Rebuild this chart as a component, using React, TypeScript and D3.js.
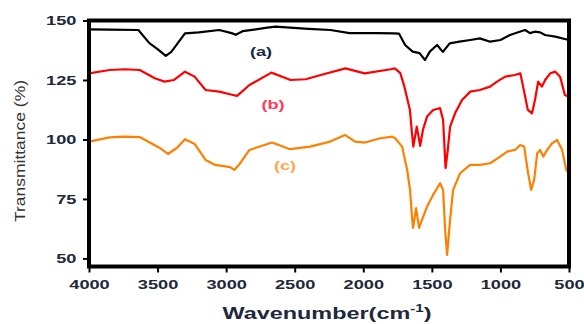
import React, { useEffect, useRef } from 'react';
import * as d3 from 'd3';

// (a) black spectrum
const waveA = [4000, 3850, 3640, 3560, 3500, 3440, 3400, 3300, 3200, 3050, 2960, 2930, 2880, 2700, 2640, 2400, 2240, 2100, 1900, 1780, 1740, 1695, 1640, 1590, 1550, 1515, 1462, 1420, 1370, 1300, 1220, 1150, 1075, 1000, 930, 860, 820, 785, 750, 710, 675, 600, 500];
const transA = [146.3, 146.2, 146, 140.5, 138, 135.1, 136.8, 144.6, 145, 146, 144.7, 144, 145.5, 147, 147.4, 146.5, 146, 144.7, 144.7, 144.6, 144.5, 139.7, 136.9, 136.3, 133.4, 136.9, 139.7, 136.8, 140.4, 141.1, 141.8, 142.5, 141.1, 141.8, 143.9, 145.3, 146, 144.7, 145.3, 145, 143.9, 143.2, 141.8];

// (b) red spectrum
const waveB = [4000, 3850, 3740, 3630, 3520, 3450, 3380, 3300, 3230, 3150, 3050, 2950, 2920, 2830, 2670, 2530, 2420, 2310, 2130, 1990, 1800, 1770, 1730, 1700, 1660, 1645, 1635, 1610, 1585, 1565, 1535, 1490, 1440, 1418, 1400, 1385, 1367, 1330, 1280, 1220, 1150, 1075, 1025, 965, 895, 855, 842, 800, 770, 748, 725, 697, 674, 637, 600, 565, 530, 505];
const transB = [127.8, 129.2, 129.5, 129.2, 125.7, 124.3, 125, 128.5, 126.4, 120.8, 120.1, 118.7, 118.3, 122.9, 128.1, 125, 125.3, 127.1, 129.9, 127.8, 129.5, 129.9, 127.9, 122.2, 112.4, 102.7, 97, 105.4, 97.3, 104, 109.6, 112.4, 113.2, 108.2, 88, 95, 105.4, 111.1, 116.6, 120.1, 120.8, 122.2, 124.3, 126.4, 127.1, 127.8, 124.3, 112.4, 111, 116.6, 124.3, 122.2, 125, 127.8, 128.5, 126.4, 118.7, 118];

// (c) orange spectrum
const waveC = [4000, 3850, 3740, 3630, 3480, 3424, 3360, 3300, 3230, 3150, 3080, 2971, 2940, 2900, 2830, 2665, 2534, 2388, 2242, 2133, 2060, 1987, 1877, 1790, 1768, 1717, 1680, 1659, 1645, 1637, 1615, 1593, 1572, 1535, 1491, 1440, 1418, 1403, 1389, 1367, 1345, 1294, 1221, 1148, 1075, 1002, 951, 893, 856, 827, 798, 776, 754, 732, 710, 688, 659, 623, 586, 550, 520, 505];
const transC = [99.1, 100.9, 101.2, 101, 96.3, 93.9, 96.4, 100.1, 98.1, 91.4, 89.3, 88.4, 87.2, 89.8, 95.6, 98.7, 95.9, 97, 99.1, 101.9, 99.1, 98.7, 100.5, 101.2, 100.5, 97, 87.2, 78.8, 67.6, 62.8, 71.1, 62.8, 66.2, 71.8, 76.7, 81.6, 78.8, 62, 51.5, 66.2, 78.8, 85.8, 89.3, 89.3, 90, 92.8, 94.9, 95.6, 97.7, 97, 85.8, 78.8, 83, 94.2, 95.6, 92.8, 95.6, 98.4, 99.8, 95.6, 87.2, 86];

const xTicks = [4000, 3500, 3000, 2500, 2000, 1500, 1000, 500];
const yTicks = [50, 75, 100, 125, 150];

const width = 584;
const height = 324;
const left = 89, right = 569, top = 20.5, bottom = 266.5;
const stretch = 'scale(1.4,1)';
const tickColor = '#20283a';

export default function App() {
    const xAxisRef = useRef<SVGGElement>(null);
    const yAxisRef = useRef<SVGGElement>(null);

    const x = d3.scaleLinear().domain([4000, 500]).range([left, right]);
    const y = d3.scaleLinear().domain([46.6, 150]).range([bottom, top]);

    const line = (waves: number[], vals: number[]) =>
        d3.line<number>()
            .x((d) => x(d))
            .y((d, i) => y(vals[i]))(waves) || '';

    useEffect(() => {
        const xAxis = d3.axisBottom(x).tickValues(xTicks).tickSize(6).tickPadding(7).tickFormat(d3.format('d'));
        const yAxis = d3.axisLeft(y).tickValues(yTicks).tickSize(6).tickPadding(3).tickFormat(d3.format('d'));

        const xg = d3.select(xAxisRef.current!).call(xAxis as any);
        const yg = d3.select(yAxisRef.current!).call(yAxis as any);

        [xg, yg].forEach((g) => {
            g.select('.domain').remove();
            g.selectAll('line').attr('stroke', '#000').attr('stroke-width', 2);
            g.selectAll('text')
                .attr('fill', tickColor)
                .attr('font-family', 'Liberation Sans, Arial, sans-serif')
                .attr('font-weight', 'bold')
                .attr('font-size', 13)
                .attr('transform', stretch);
        });
    }, []);

    return (
        <svg width={width} height={height} style={{ position: 'absolute', left: 0, top: 0, background: '#fff' }}>
            <defs>
                <clipPath id="plot">
                    <rect x={left} y={top} width={right - left} height={bottom - top} />
                </clipPath>
            </defs>

            <g clipPath="url(#plot)" fill="none" strokeWidth={2.2} strokeLinejoin="round">
                <path d={line(waveA, transA)} stroke="#000" />
                <path d={line(waveB, transB)} stroke="#ff0000" />
                <path d={line(waveC, transC)} stroke="#ff8000" />
            </g>

            <rect x={left} y={top} width={right - left} height={bottom - top} fill="none" stroke="#000" strokeWidth={4} />

            <g ref={xAxisRef} transform={`translate(0,${bottom})`}></g>
            <g ref={yAxisRef} transform={`translate(${left},0)`}></g>

            <g fontFamily="Liberation Sans, Arial, sans-serif" fontWeight="bold" fontSize={13} textAnchor="middle">
                <text transform={`translate(261,56) ${stretch}`} fill="#1b2a4a">(a)</text>
                <text transform={`translate(273,109) ${stretch}`} fill="#ff3b5c">(b)</text>
                <text transform={`translate(285,170) ${stretch}`} fill="#ffa64d">(c)</text>
            </g>

            <text transform="translate(25,151) rotate(-90)" textAnchor="middle"
                fontFamily="Liberation Sans, Arial, sans-serif" fontSize={15} fill="#333"
                textLength={142} lengthAdjust="spacingAndGlyphs">
                Transmittance (%)
            </text>

            <text x={327} y={319} textAnchor="middle"
                fontFamily="Liberation Sans, Arial, sans-serif" fontSize={17} fontWeight="bold" fill={tickColor}
                textLength={209} lengthAdjust="spacingAndGlyphs">
                Wavenumber(cm<tspan dy={-7} fontSize={11}>-1</tspan><tspan dy={7}>)</tspan>
            </text>
        </svg>
    );
}
